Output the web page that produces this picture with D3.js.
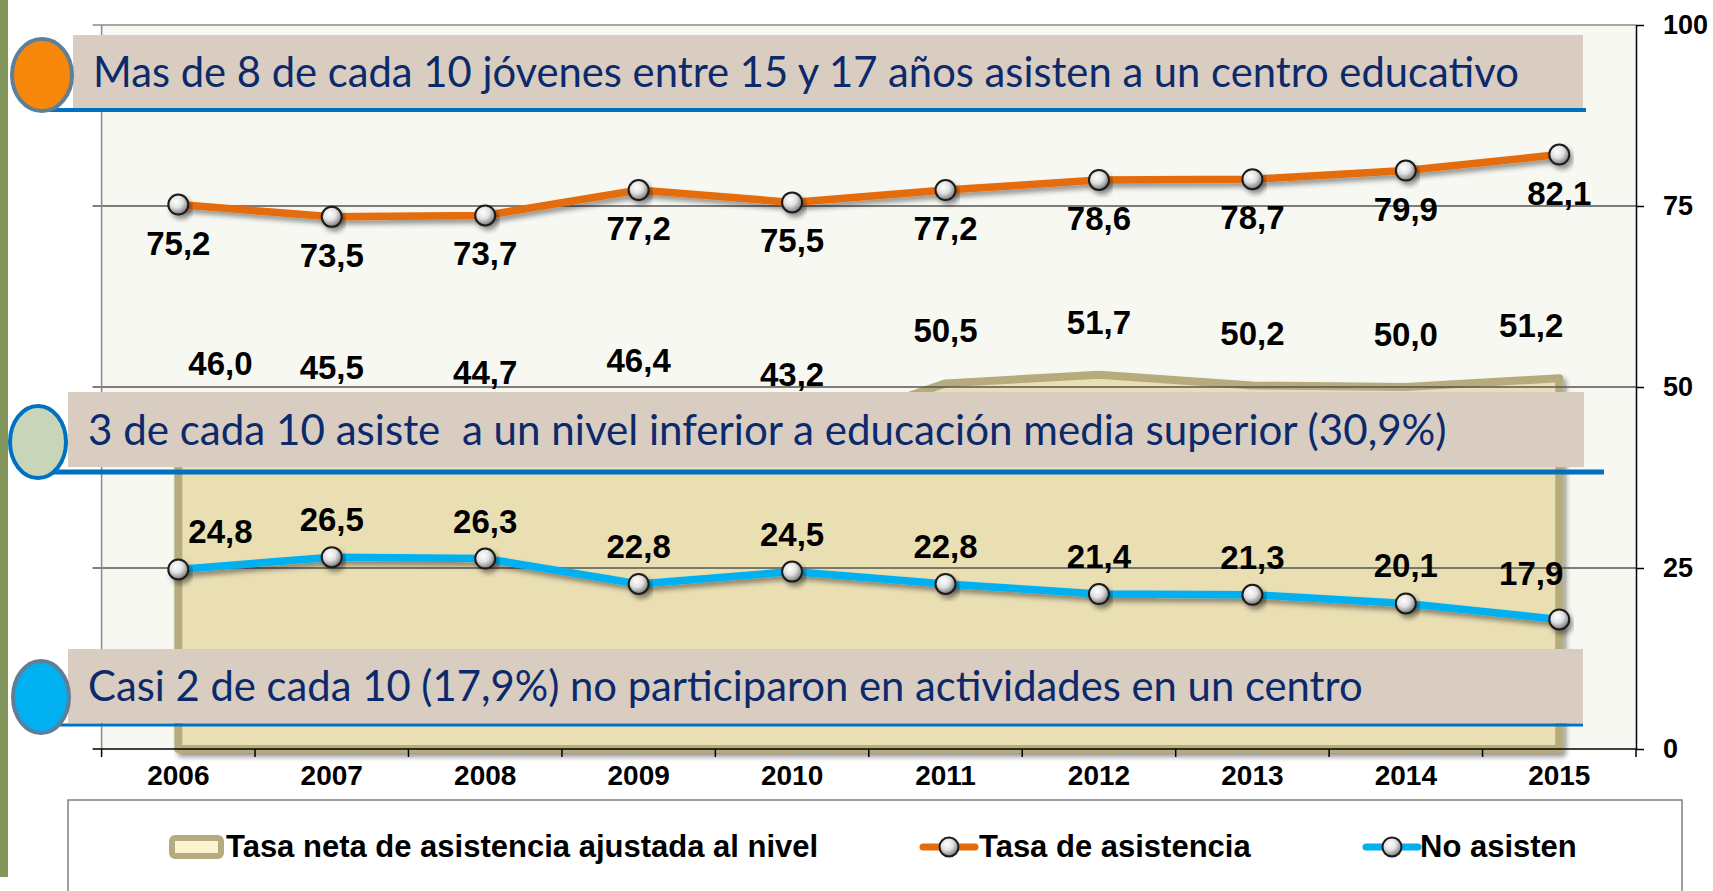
<!DOCTYPE html>
<html>
<head>
<meta charset="utf-8">
<script src="https://cdn.jsdelivr.net/npm/d3@7"></script>
<style>
  body { margin: 0; background: #fff; }
  svg { display: block; }
</style>
</head>
<body>
<div id="chart"></div>
<script>
const width = 1713;
const height = 891;

// Data
const years = ["2006", "2007", "2008", "2009", "2010", "2011", "2012", "2013", "2014", "2015"];
const tasaNeta = [46.0, 45.5, 44.7, 46.4, 43.2, 50.5, 51.7, 50.2, 50.0, 51.2];
const tasaAsistencia = [75.2, 73.5, 73.7, 77.2, 75.5, 77.2, 78.6, 78.7, 79.9, 82.1];
const noAsisten = [24.8, 26.5, 26.3, 22.8, 24.5, 22.8, 21.4, 21.3, 20.1, 17.9];
const yTicks = [0, 25, 50, 75, 100];
const legendLabels = ["Tasa neta de asistencia ajustada al nivel", "Tasa de asistencia", "No asisten"];
const calloutTexts = [
    "Mas de 8 de cada 10 jóvenes entre 15 y 17 años asisten a un centro educativo",
    "3 de cada 10 asiste  a un nivel inferior a educación media superior (30,9%)",
    "Casi 2 de cada 10 (17,9%) no participaron en actividades en un centro"
];

const plot = { left: 101.6, right: 1636, top: 25, bottom: 749 };
const fmt = v => v.toFixed(1).replace(".", ",");
const labelFont = "'Liberation Sans', Arial, sans-serif";
const last = years.length - 1;

const svg = d3.select("#chart")
    .append("svg")
    .attr("width", width)
    .attr("height", height);

const defs = svg.append("defs");
const shadow = defs.append("filter").attr("id", "shadow")
    .attr("x", "-10%").attr("y", "-20%").attr("width", "130%").attr("height", "160%");
shadow.append("feDropShadow")
    .attr("dx", 3).attr("dy", 4).attr("stdDeviation", 2.5)
    .attr("flood-color", "#000").attr("flood-opacity", 0.4);

const ball = defs.append("radialGradient").attr("id", "ball")
    .attr("cx", "40%").attr("cy", "35%").attr("r", "70%");
ball.append("stop").attr("offset", "0%").attr("stop-color", "#ffffff");
ball.append("stop").attr("offset", "45%").attr("stop-color", "#e2e2e2");
ball.append("stop").attr("offset", "100%").attr("stop-color", "#6a6a6a");

// scales
const x = d3.scaleBand().domain(years).range([plot.left, plot.right]);
const cx = d => x(d) + x.bandwidth() / 2;
const y = d3.scaleLinear().domain([0, 100]).range([plot.bottom, plot.top]);

// slide decoration on the left
svg.append("rect").attr("x", 0).attr("y", 0).attr("width", 8).attr("height", 877).attr("fill", "#83965c");

// plot background
svg.append("rect")
    .attr("x", plot.left).attr("y", plot.top)
    .attr("width", plot.right - plot.left).attr("height", plot.bottom - plot.top)
    .attr("fill", "#f8f8f3");

// area series
const area = d3.area()
    .x((d, i) => cx(years[i]))
    .y0(y(0))
    .y1(d => y(d));

svg.append("path")
    .datum(tasaNeta)
    .attr("d", area)
    .attr("fill", "#eadeb3")
    .attr("stroke", "#b5ab7d")
    .attr("stroke-width", 8)
    .attr("stroke-linejoin", "round")
    .attr("filter", "url(#shadow)");

// gridlines
svg.append("g").selectAll("line")
    .data(yTicks.filter(d => d > 0))
    .enter()
    .append("line")
    .attr("x1", plot.left - 9).attr("x2", plot.right)
    .attr("y1", d => y(d)).attr("y2", d => y(d))
    .attr("stroke", d => d === 100 ? "#8a8a8a" : "#555")
    .attr("stroke-width", 1.5);

svg.append("line")
    .attr("x1", plot.left).attr("x2", plot.left)
    .attr("y1", plot.top).attr("y2", plot.bottom)
    .attr("stroke", "#8a8a8a").attr("stroke-width", 1.5);

// labels: first and last one kept inside the plot for the area and "No asisten"
function addLabels(values, dy, edgeAware) {
    svg.append("g").selectAll("text")
        .data(values)
        .enter()
        .append("text")
        .attr("x", (d, i) => {
            const c = cx(years[i]);
            if (!edgeAware) return c;
            return i === 0 ? c + 10 : i === last ? c + 4 : c;
        })
        .attr("y", (d, i) => dy(d, i))
        .attr("text-anchor", (d, i) => !edgeAware ? "middle" : i === 0 ? "start" : i === last ? "end" : "middle")
        .attr("font-family", labelFont)
        .attr("font-weight", "bold")
        .attr("font-size", "33px")
        .attr("fill", "#000")
        .text(fmt);
}

// line series
const line = d3.line().x((d, i) => cx(years[i])).y(d => y(d));

function drawSeries(values, color) {
    svg.append("path")
        .datum(values)
        .attr("d", line)
        .attr("fill", "none")
        .attr("stroke", color)
        .attr("stroke-width", 7.5)
        .attr("filter", "url(#shadow)");

    svg.append("g").selectAll("circle")
        .data(values)
        .enter()
        .append("circle")
        .attr("cx", (d, i) => cx(years[i]))
        .attr("cy", d => y(d))
        .attr("r", 10)
        .attr("fill", "url(#ball)")
        .attr("stroke", "#1a1a1a")
        .attr("stroke-width", 2)
        .attr("filter", "url(#shadow)");
}

drawSeries(tasaAsistencia, "#e46c0a");
drawSeries(noAsisten, "#00b0f0");

addLabels(tasaAsistencia, d => y(d) + 50, false);
addLabels(noAsisten, (d, i) => y(d) - (i === last ? 34 : 26), true);
// area labels sit above the value, clear of the middle callout
addLabels(tasaNeta, d => Math.min(y(d) - 41, 386), true);

// right axis
const yAxis = svg.append("g")
    .attr("transform", `translate(${plot.right},0)`)
    .call(d3.axisRight(y).tickValues(yTicks).tickSize(8).tickPadding(19).tickSizeOuter(0));
yAxis.select(".domain").attr("stroke", "#000").attr("stroke-width", 1.5);
yAxis.selectAll(".tick line").attr("stroke", "#000").attr("stroke-width", 1.5);
yAxis.selectAll("text")
    .attr("font-family", labelFont)
    .attr("font-weight", "bold")
    .attr("font-size", "27px")
    .attr("fill", "#000");

// bottom axis
const xAxis = svg.append("g")
    .attr("transform", `translate(0,${plot.bottom})`)
    .call(d3.axisBottom(x).tickSize(0).tickPadding(16));
xAxis.select(".domain").remove();
xAxis.selectAll("text")
    .attr("font-family", labelFont)
    .attr("font-weight", "bold")
    .attr("font-size", "28px")
    .attr("fill", "#000");

svg.append("line")
    .attr("x1", plot.left - 9).attr("x2", plot.right)
    .attr("y1", plot.bottom).attr("y2", plot.bottom)
    .attr("stroke", "#000").attr("stroke-width", 1.5);

svg.append("g").selectAll("line")
    .data(years.map(d => x(d)).concat([plot.right]))
    .enter()
    .append("line")
    .attr("x1", d => d).attr("x2", d => d)
    .attr("y1", plot.bottom).attr("y2", plot.bottom + 8)
    .attr("stroke", "#000").attr("stroke-width", 1.5);

// callout boxes
const calloutLayout = [
    { x0: 73, x1: 1583, y0: 35, y1: 108, lineY: 110, lineW: 4, lineEnd: 1586, tx: 93, base: 87, tw: 1426,
      ex: 42, ey: 75, rx: 30, ry: 36, fill: "#f7870a", stroke: "#5f7f99" },
    { x0: 68, x1: 1584, y0: 392, y1: 467, lineY: 472, lineW: 5, lineEnd: 1604, tx: 88, base: 445, tw: 1359,
      ex: 38, ey: 442, rx: 28, ry: 36, fill: "#c9d5b9", stroke: "#0070c0" },
    { x0: 68, x1: 1583, y0: 649, y1: 723, lineY: 725, lineW: 3, lineEnd: 1583, tx: 88, base: 701, tw: 1275,
      ex: 41, ey: 697, rx: 28, ry: 36, fill: "#00b0f0", stroke: "#5f7f99" }
];

calloutLayout.forEach((c, i) => {
    const g = svg.append("g");
    g.append("line")
        .attr("x1", c.ex).attr("x2", c.lineEnd)
        .attr("y1", c.lineY).attr("y2", c.lineY)
        .attr("stroke", "#0070c0").attr("stroke-width", c.lineW);
    g.append("rect")
        .attr("x", c.x0).attr("y", c.y0)
        .attr("width", c.x1 - c.x0).attr("height", c.y1 - c.y0)
        .attr("fill", "#d8cdc0");
    g.append("ellipse")
        .attr("cx", c.ex).attr("cy", c.ey).attr("rx", c.rx).attr("ry", c.ry)
        .attr("fill", c.fill).attr("stroke", c.stroke).attr("stroke-width", 4);
    const t = g.append("text")
        .attr("x", c.tx).attr("y", c.base)
        .attr("font-family", "Lato, 'Open Sans', sans-serif")
        .attr("font-size", "38px")
        .attr("fill", "#0c2a6b")
        .style("white-space", "pre")
        .text(calloutTexts[i]);
    const w = t.node().getComputedTextLength();
    t.attr("font-size", (38 * c.tw / w) + "px");
});

// legend
svg.append("rect")
    .attr("x", 68).attr("y", 800)
    .attr("width", 1614).attr("height", 120)
    .attr("fill", "#fff").attr("stroke", "#808080").attr("stroke-width", 1.5);

const legendBase = 857;
const legend = svg.append("g");

legend.append("rect")
    .attr("x", 172).attr("y", 838).attr("width", 49).attr("height", 18)
    .attr("rx", 3)
    .attr("fill", "#fdf3d0").attr("stroke", "#b4ab7e").attr("stroke-width", 6);

[[923, "#e46c0a"], [1366, "#00b0f0"]].forEach(([lx, color]) => {
    legend.append("line")
        .attr("x1", lx).attr("x2", lx + 52)
        .attr("y1", 847).attr("y2", 847)
        .attr("stroke", color).attr("stroke-width", 7).attr("stroke-linecap", "round");
    legend.append("circle")
        .attr("cx", lx + 26).attr("cy", 847).attr("r", 9.5)
        .attr("fill", "url(#ball)").attr("stroke", "#1a1a1a").attr("stroke-width", 2);
});

legend.selectAll("text")
    .data(legendLabels)
    .enter()
    .append("text")
    .attr("x", (d, i) => [226, 979, 1420][i])
    .attr("y", legendBase)
    .attr("font-family", labelFont)
    .attr("font-weight", "bold")
    .attr("font-size", "31px")
    .attr("fill", "#000")
    .text(d => d);
</script>
</body>
</html>
